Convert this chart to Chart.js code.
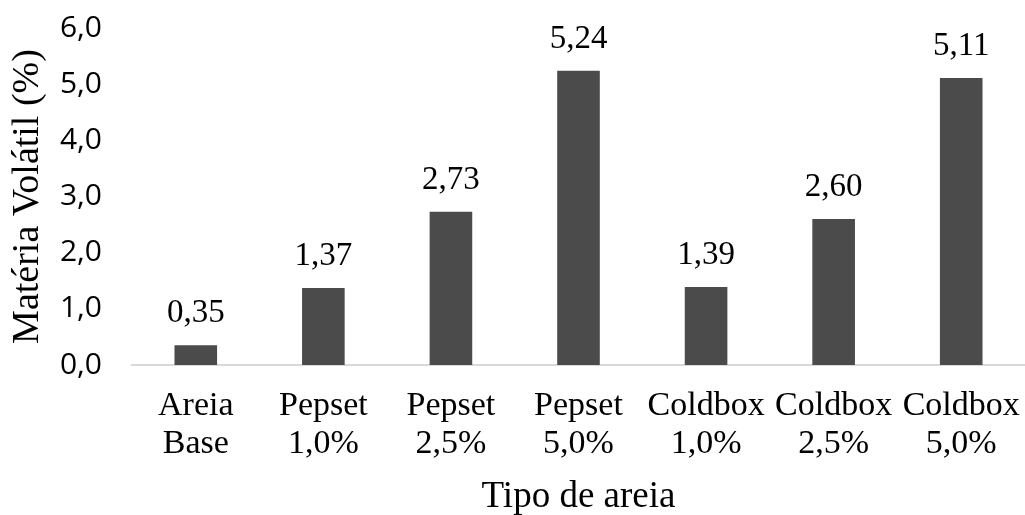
<!DOCTYPE html>
<html>
<head>
<meta charset="utf-8">
<script src="https://cdn.jsdelivr.net/npm/chart.js@4.4.0/dist/chart.umd.min.js"></script>
<style>
  html, body { margin: 0; padding: 0; background: #fff; }
  #wrap { width: 1025px; height: 515px; position: relative; }
</style>
</head>
<body>
<div id="wrap"><canvas id="c" width="1025" height="515"></canvas></div>
<script>
const categories = [
  ["Areia", "Base"],
  ["Pepset", "1,0%"],
  ["Pepset", "2,5%"],
  ["Pepset", "5,0%"],
  ["Coldbox", "1,0%"],
  ["Coldbox", "2,5%"],
  ["Coldbox", "5,0%"]
];
const volatileMatter = [0.35, 1.37, 2.73, 5.24, 1.39, 2.60, 5.11];
const yTickValues = [0, 1, 2, 3, 4, 5, 6];
const yTitle = "Matéria Volátil (%)";
const xTitle = "Tipo de areia";

const serif = "'Liberation Serif', 'Times New Roman', serif";
const sans = "'Open Sans', 'Noto Sans', sans-serif";

const fmt = (v, d) => v.toFixed(d).replace('.', ',');

const valueLabels = {
  id: 'valueLabels',
  afterDatasetsDraw(chart) {
    const ctx = chart.ctx;
    const meta = chart.getDatasetMeta(0);
    ctx.save();
    ctx.font = "33px " + serif;
    ctx.fillStyle = "#000";
    ctx.textAlign = "center";
    ctx.textBaseline = "alphabetic";
    meta.data.forEach((bar, i) => {
      ctx.fillText(fmt(chart.data.datasets[0].data[i], 2), bar.x, bar.y - 23);
    });
    ctx.restore();
  }
};

new Chart(document.getElementById('c'), {
  type: 'bar',
  data: {
    labels: categories,
    datasets: [{
      data: volatileMatter,
      backgroundColor: '#4b4b4b',
      borderWidth: 0,
      categoryPercentage: 1.0,
      barPercentage: 0.334
    }]
  },
  options: {
    responsive: false,
    animation: false,
    devicePixelRatio: 1,
    layout: { padding: { top: 28, right: 0, bottom: 0, left: 0 } },
    plugins: {
      legend: { display: false },
      tooltip: { enabled: false }
    },
    scales: {
      x: {
        grid: { display: false, drawTicks: false },
        border: { display: true, color: '#d9d9d9', width: 2 },
        ticks: {
          color: '#000',
          font: { family: serif, size: 34, lineHeight: 1.12 },
          padding: 22,
          maxRotation: 0,
          autoSkip: false
        },
        title: {
          display: true,
          text: xTitle,
          color: '#000',
          font: { family: serif, size: 37 },
          padding: { top: 0, bottom: -4 }
        },
        afterFit(scale) {
          scale.height = 150;
          scale.paddingLeft = 0;
          scale.paddingRight = 0;
        }
      },
      y: {
        min: 0,
        max: 6,
        grid: { display: false, drawTicks: false },
        border: { display: false },
        afterBuildTicks(scale) { scale.ticks = yTickValues.map(v => ({ value: v })); },
        ticks: {
          color: '#000',
          font: { family: sans, size: 30 },
          padding: 30,
          callback: (v) => fmt(v, 1)
        },
        title: {
          display: true,
          text: yTitle,
          color: '#000',
          font: { family: serif, size: 38 },
          padding: { top: 5, bottom: 0 }
        },
        afterFit(scale) {
          scale.width = 132;
          scale.paddingTop = 0;
          scale.paddingBottom = 0;
        }
      }
    }
  },
  plugins: [valueLabels]
});
</script>
</body>
</html>
